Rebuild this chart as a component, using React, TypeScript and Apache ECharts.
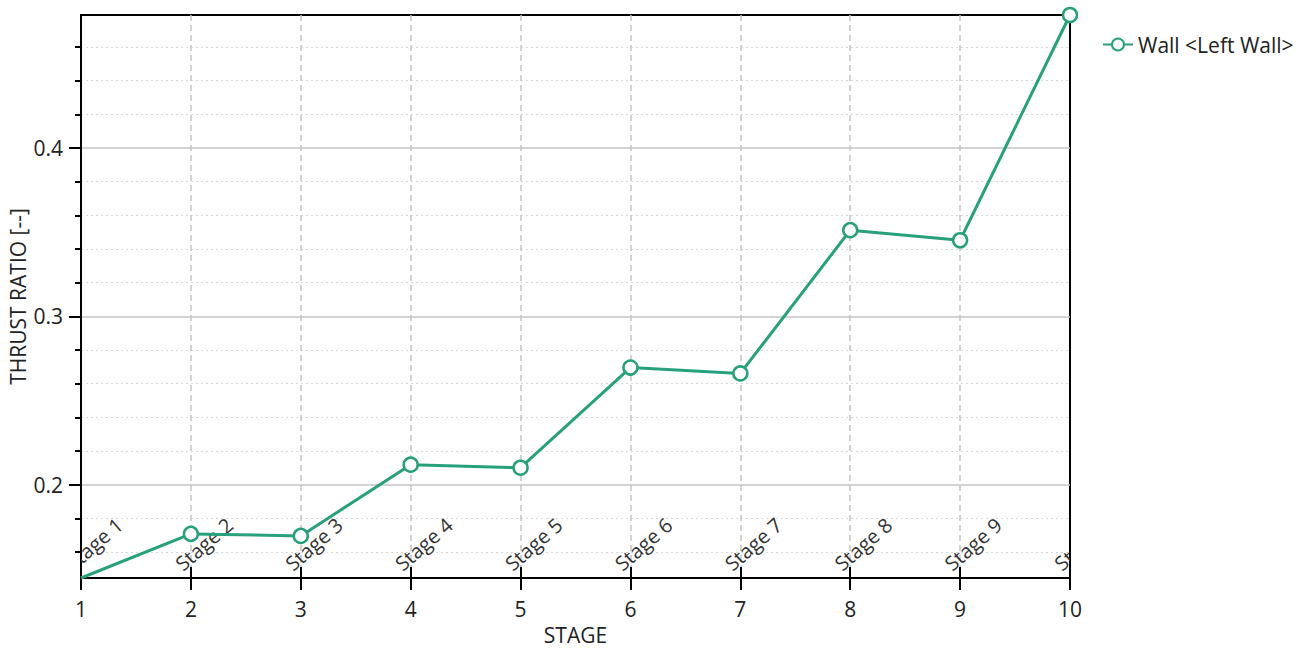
import React, { useEffect, useRef } from "react";
import * as echarts from "echarts";

const stages = [1, 2, 3, 4, 5, 6, 7, 8, 9, 10];
const stageLabels = ["Stage 1", "Stage 2", "Stage 3", "Stage 4", "Stage 5", "Stage 6", "Stage 7", "Stage 8", "Stage 9", "Stage 10"];
const thrustRatio = [0.1446, 0.1708, 0.1696, 0.2119, 0.2101, 0.2696, 0.2661, 0.3512, 0.3452, 0.479];
const yMajorTicks = [0.2, 0.3, 0.4];
const yMinorTicks = [0.16, 0.18, 0.22, 0.24, 0.26, 0.28, 0.32, 0.34, 0.36, 0.38, 0.42, 0.44, 0.46];
const seriesName = "Wall <Left Wall>";

const FONT = "'Open Sans', 'Noto Sans', sans-serif";
const TEAL = "#27a07b";
const TEXT = "#222";

export default function App() {
  const ref = useRef<HTMLDivElement>(null);
  useEffect(() => {
    if (!ref.current) return;
    const chart = echarts.init(ref.current, undefined, { renderer: "svg" });
    const yMin = Math.min(...thrustRatio);
    const yMax = Math.max(...thrustRatio);
    const xMin = stages[0];
    const xMax = stages[stages.length - 1];
    const option: any = {
      animation: false,
      backgroundColor: "#fff",
      textStyle: { fontFamily: FONT },
      grid: {
        left: 81, right: 237, top: 15, bottom: 72,
        outerBoundsMode: "none",
        containLabel: false,
        show: true, borderColor: "#000", borderWidth: 2,
      },
      legend: {
        data: [seriesName],
        left: 1097, top: 29,
        itemWidth: 30, itemHeight: 15, itemGap: 8,
        textStyle: { fontSize: 21, color: TEXT, fontFamily: FONT },
      },
      xAxis: [
        {
          type: "value", min: xMin, max: xMax, interval: 1,
          name: "STAGE", nameLocation: "middle", nameGap: 46, nameMoveOverlap: false,
          nameTextStyle: { fontSize: 21, color: TEXT, fontFamily: FONT },
          axisLine: { show: true, onZero: false, lineStyle: { color: "#000", width: 2 } },
          axisTick: { show: true, inside: false, length: 12, lineStyle: { color: "#000", width: 2 } },
          axisLabel: { fontSize: 21, color: TEXT, margin: 20, fontFamily: FONT },
          splitLine: { show: true, showMinLine: false, showMaxLine: false, lineStyle: { color: "#c4c4c4", type: [6, 4], width: 1.5 } },
        },
        {
          type: "value", min: xMin, max: xMax, interval: 1, position: "bottom", offset: 0,
          axisLine: { show: false, onZero: false },
          axisTick: { show: true, inside: true, length: 11, lineStyle: { color: "#000", width: 2 } },
          axisLabel: { show: false },
          splitLine: { show: false },
        },
      ],
      yAxis: [
        {
          type: "value", min: yMin, max: yMax,
          name: "THRUST RATIO [--]", nameLocation: "middle", nameGap: 53, nameMoveOverlap: false,
          nameTextStyle: { fontSize: 21, color: TEXT, fontFamily: FONT },
          axisLine: { show: true, onZero: false, lineStyle: { color: "#000", width: 2 } },
          axisTick: { show: true, inside: false, length: 12, customValues: yMajorTicks, lineStyle: { color: "#000", width: 2 } },
          axisLabel: { fontSize: 21, color: TEXT, margin: 18, customValues: yMajorTicks, fontFamily: FONT },
          splitLine: { show: true, lineStyle: { color: "#c4c4c4", type: "solid", width: 1.5 } },
        },
        {
          type: "value", min: yMin, max: yMax, position: "left", offset: 0,
          axisLine: { show: false, onZero: false },
          axisTick: { show: true, inside: false, length: 6, customValues: yMinorTicks, lineStyle: { color: "#000", width: 2 } },
          axisLabel: { show: false, customValues: yMinorTicks },
          splitLine: { show: true, lineStyle: { color: "#d8d8d8", type: [2, 3], width: 1.2 } },
        },
      ],
      series: [
        {
          name: seriesName,
          type: "line",
          xAxisIndex: 0, yAxisIndex: 0,
          data: stages.map((s, i) => (i === 0 ? { value: [s, thrustRatio[i]], symbol: "none" } : [s, thrustRatio[i]])),
          clip: false,
          symbol: "circle",
          symbolSize: 14,
          lineStyle: { color: TEAL, width: 3 },
          itemStyle: { color: "#fff", borderColor: TEAL, borderWidth: 2.5 },
          z: 5,
        },
        {
          name: "stageLabels",
          type: "custom",
          xAxisIndex: 1, yAxisIndex: 1,
          silent: true,
          clip: true,
          data: stages.map((s) => [s, yMin]),
          encode: { x: 0, y: 1 },
          renderItem: (params: any, api: any) => {
            const p = api.coord([api.value(0), api.value(1)]);
            return {
              type: "text",
              x: p[0] - 6,
              y: p[1] - 4,
              rotation: (41 * Math.PI) / 180,
              style: {
                text: stageLabels[params.dataIndex],
                x: 0, y: 0,
                align: "left",
                verticalAlign: "bottom",
                fill: "#333",
                fontSize: 20,
                fontFamily: FONT,
              },
            };
          },
          z: 3,
        },
      ],
    };
    chart.setOption(option);
    return () => chart.dispose();
  }, []);
  return <div ref={ref} style={{ position: "fixed", left: 0, top: 0, width: 1307, height: 650, background: "#fff" }} />;
}
